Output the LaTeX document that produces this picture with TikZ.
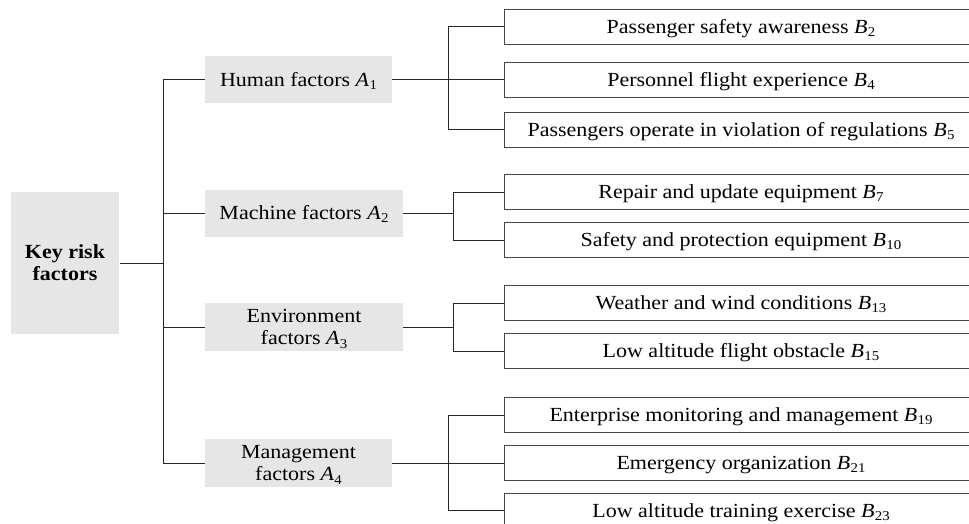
\documentclass[tikz,border=0pt]{standalone}
\usepackage{fontspec}
\setmainfont{Liberation Serif}[FakeStretch=1.1]
\newcommand{\sym}[2]{\textit{#1}\kern0.3pt\raisebox{-0.35ex}{\fontsize{13.5}{13.5}\selectfont #2}}
\definecolor{boxgray}{RGB}{230,230,230}
\definecolor{edgegray}{RGB}{70,70,70}
\tikzset{
  every node/.style={font=\fontsize{20}{22.5}\selectfont, inner sep=0pt},
  oneline/.style={text height=13.2pt, text depth=0pt},
  twoline/.style={text height=35.7pt, text depth=0pt},
  rootbox/.style={fill=boxgray, minimum width=108.6pt, minimum height=142pt, align=center, twoline, font=\fontsize{20}{22.5}\selectfont\bfseries},
  factorbox/.style={fill=boxgray, minimum height=47pt, align=center},
  itembox/.style={draw=edgegray, line width=0.9pt, minimum width=474pt, minimum height=35pt, fill=white, oneline},
  link/.style={line width=0.9pt, draw=black!85},
}
\begin{document}
\begin{tikzpicture}[x=1pt, y=-1pt]
\useasboundingbox (0,0) rectangle (969,524);
\clip (0,0) rectangle (969,524);

% root
\node[rootbox] (K) at (65,263) {Key risk\\factors};

% first-level factors
\node[factorbox, oneline, minimum width=187pt] (A1) at (298.5,79.5) {Human factors \sym{A}{1}};
\node[factorbox, oneline, minimum width=198pt] (A2) at (304,213) {Machine factors \sym{A}{2}};
\node[factorbox, twoline, minimum width=198pt, minimum height=48pt] (A3) at (304,327) {Environment\\factors \sym{A}{3}};
\node[factorbox, twoline, minimum width=187pt, minimum height=48pt] (A4) at (298.5,463) {Management\\factors \sym{A}{4}};

% second-level items
\node[itembox] (B2)  at (741,26.5)  {Passenger safety awareness \sym{B}{2}};
\node[itembox] (B4)  at (741,79.5)  {Personnel flight experience \sym{B}{4}};
\node[itembox] (B5)  at (741,129.5) {Passengers operate in violation of regulations \sym{B}{5}};
\node[itembox] (B7)  at (741,192)   {Repair and update equipment \sym{B}{7}};
\node[itembox] (B10) at (741,240)   {Safety and protection equipment \sym{B}{10}};
\node[itembox] (B13) at (741,303)   {Weather and wind conditions \sym{B}{13}};
\node[itembox] (B15) at (741,351)   {Low altitude flight obstacle \sym{B}{15}};
\node[itembox] (B19) at (741,415)   {Enterprise monitoring and management \sym{B}{19}};
\node[itembox] (B21) at (741,463)   {Emergency organization \sym{B}{21}};
\node[itembox] (B23) at (741,510.5) {Low altitude training exercise \sym{B}{23}};

% bracket columns
\coordinate (t)  at (163.3,0);
\coordinate (h1) at (448,0);
\coordinate (h2) at (453.3,0);
\coordinate (h3) at (453.3,0);
\coordinate (h4) at (448,0);

% root to trunk
\draw[link] (K.east) -- (K.east -| t);
\draw[link] (A1.west -| t) -- (A4.west -| t);
\foreach \a in {A1,A2,A3,A4} \draw[link] (\a.west -| t) -- (\a.west);

% human factors group
\draw[link] (A1.east) -- (A1.east -| h1);
\draw[link] (B2.west) -- (B2.west -| h1) -- (B5.west -| h1) -- (B5.west);
\draw[link] (B4.west -| h1) -- (B4.west);

% machine factors group
\draw[link] (A2.east) -- (A2.east -| h2);
\draw[link] (B7.west) -- (B7.west -| h2) -- (B10.west -| h2) -- (B10.west);

% environment factors group
\draw[link] (A3.east) -- (A3.east -| h3);
\draw[link] (B13.west) -- (B13.west -| h3) -- (B15.west -| h3) -- (B15.west);

% management factors group
\draw[link] (A4.east) -- (A4.east -| h4);
\draw[link] (B19.west) -- (B19.west -| h4) -- (B23.west -| h4) -- (B23.west);
\draw[link] (B21.west -| h4) -- (B21.west);
\end{tikzpicture}
\end{document}
